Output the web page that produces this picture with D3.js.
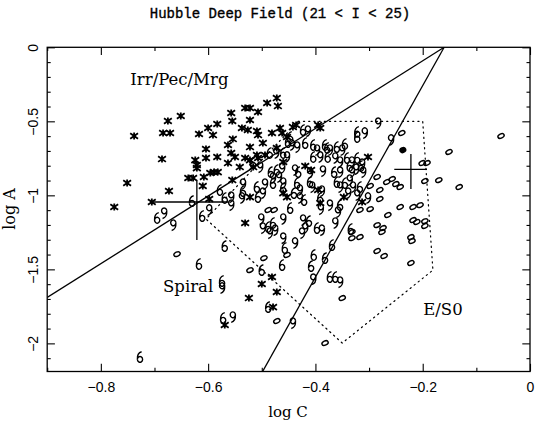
<!DOCTYPE html>
<html><head><meta charset="utf-8">
<script src="https://cdn.jsdelivr.net/npm/d3@7"></script>
<style>body{margin:0;background:#fff}</style>
</head><body>
<svg id="chart" width="540" height="422"></svg>
<script>
const title = "Hubble Deep Field (21 < I < 25)";
const xMajor = [-0.8, -0.6, -0.4, -0.2, 0];
const xMajorLabels = ["\u22120.8", "\u22120.6", "\u22120.4", "\u22120.2", "0"];
const xMinor = [-0.9, -0.7, -0.5, -0.3, -0.1];
const yMajor = [0, -0.5, -1, -1.5, -2];
const yMajorLabels = ["0", "\u22120.5", "\u22121", "\u22121.5", "\u22122"];
const yMinor = [-0.1,-0.2,-0.3,-0.4,-0.6,-0.7,-0.8,-0.9,-1.1,-1.2,-1.3,-1.4,-1.6,-1.7,-1.8,-1.9,-2.1];

const irregular = [[-0.738,-0.599],[-0.751,-0.917],[-0.775,-1.079],[-0.705,-1.045],[-0.684,-0.579],[-0.671,-0.579],[-0.675,-0.498],[-0.651,-0.464],[-0.686,-0.755],[-0.673,-0.971],[-0.637,-0.883],[-0.628,-0.883],[-0.624,-0.762],[-0.621,-0.795],[-0.621,-0.816],[-0.617,-0.586],[-0.608,-0.876],[-0.610,-0.937],[-0.604,-0.687],[-0.604,-0.748],[-0.600,-0.545],[-0.591,-0.593],[-0.583,-0.518],[-0.596,-0.849],[-0.589,-0.843],[-0.582,-0.843],[-0.583,-0.741],[-0.557,-0.444],[-0.555,-0.498],[-0.554,-0.620],[-0.563,-0.660],[-0.557,-0.714],[-0.550,-0.741],[-0.563,-0.782],[-0.555,-0.897],[-0.531,-0.410],[-0.522,-0.410],[-0.507,-0.437],[-0.490,-0.376],[-0.472,-0.343],[-0.470,-0.397],[-0.522,-0.491],[-0.537,-0.545],[-0.526,-0.559],[-0.509,-0.566],[-0.507,-0.593],[-0.481,-0.579],[-0.466,-0.545],[-0.462,-0.579],[-0.442,-0.539],[-0.436,-0.525],[-0.395,-0.525],[-0.391,-0.545],[-0.522,-0.674],[-0.498,-0.647],[-0.472,-0.680],[-0.453,-0.606],[-0.531,-0.748],[-0.509,-0.728],[-0.507,-0.748],[-0.494,-0.728],[-0.541,-0.809],[-0.516,-0.809],[-0.522,-0.762],[-0.460,-0.775],[-0.419,-0.802],[-0.408,-0.829],[-0.302,-0.741],[-0.395,-0.964],[-0.391,-1.052],[-0.598,-1.025],[-0.531,-1.187],[-0.481,-1.552],[-0.500,-1.599],[-0.472,-1.653],[-0.524,-1.694],[-0.569,-1.876],[-0.479,-1.755],[-0.522,-1.012],[-0.460,-0.985],[-0.453,-1.012],[-0.347,-1.012],[-0.313,-1.045]];

const spirals = [[-0.283,-0.512,9],[-0.322,-0.572,6],[-0.322,-0.606,6],[-0.308,-0.579,9],[-0.259,-0.626,9],[-0.447,-0.606,6],[-0.451,-0.640,6],[-0.444,-0.660,9],[-0.460,-0.714,6],[-0.453,-0.741,9],[-0.423,-0.559,6],[-0.414,-0.566,9],[-0.419,-0.647,6],[-0.434,-0.674,9],[-0.404,-0.660,6],[-0.397,-0.694,9],[-0.382,-0.660,6],[-0.378,-0.680,6],[-0.373,-0.694,9],[-0.360,-0.674,6],[-0.350,-0.694,9],[-0.345,-0.653,6],[-0.404,-0.741,6],[-0.391,-0.741,9],[-0.377,-0.741,6],[-0.363,-0.748,9],[-0.354,-0.775,9],[-0.341,-0.748,6],[-0.332,-0.775,9],[-0.322,-0.748,6],[-0.313,-0.789,9],[-0.438,-0.829,9],[-0.432,-0.843,6],[-0.410,-0.849,9],[-0.386,-0.836,9],[-0.365,-0.843,6],[-0.354,-0.843,9],[-0.336,-0.802,6],[-0.332,-0.843,9],[-0.324,-0.823,9],[-0.315,-0.802,6],[-0.311,-0.843,9],[-0.434,-0.917,6],[-0.429,-0.964,9],[-0.410,-0.910,6],[-0.406,-0.944,9],[-0.388,-0.971,9],[-0.360,-0.910,6],[-0.354,-0.944,9],[-0.345,-0.917,6],[-0.336,-0.897,9],[-0.330,-0.944,9],[-0.317,-0.944,6],[-0.339,-0.985,9],[-0.322,-0.998,9],[-0.440,-0.985,6],[-0.429,-1.018,9],[-0.302,-1.018,9],[-0.535,-0.924,9],[-0.535,-0.971,6],[-0.537,-1.018,9],[-0.509,-0.944,6],[-0.494,-0.924,9],[-0.498,-0.985,9],[-0.507,-1.012,6],[-0.483,-0.843,6],[-0.479,-0.883,9],[-0.472,-0.829,6],[-0.468,-0.876,9],[-0.462,-0.816,9],[-0.479,-0.917,6],[-0.460,-0.917,9],[-0.460,-0.951,6],[-0.578,-0.964,6],[-0.569,-1.018,6],[-0.557,-1.012,9],[-0.485,-0.714,6],[-0.473,-0.714,9],[-0.516,-0.782,6],[-0.503,-0.809,9],[-0.695,-1.153,6],[-0.682,-1.120,9],[-0.665,-1.201,9],[-0.630,-1.039,6],[-0.598,-1.099,9],[-0.611,-1.140,6],[-0.557,-1.066,9],[-0.569,-1.343,6],[-0.617,-1.464,6],[-0.574,-1.579,6],[-0.574,-1.626,9],[-0.572,-1.829,6],[-0.554,-1.822,9],[-0.727,-2.093,6],[-0.500,-1.505,6],[-0.488,-1.755,6],[-0.501,-1.160,9],[-0.498,-1.221,9],[-0.488,-1.214,6],[-0.479,-1.187,6],[-0.475,-1.235,9],[-0.485,-1.255,9],[-0.460,-1.160,9],[-0.460,-1.289,9],[-0.457,-1.356,6],[-0.462,-1.471,6],[-0.447,-1.086,6],[-0.421,-1.032,6],[-0.391,-1.018,6],[-0.390,-1.093,9],[-0.373,-1.066,9],[-0.354,-1.066,6],[-0.358,-1.113,9],[-0.423,-1.167,9],[-0.412,-1.174,6],[-0.419,-1.221,9],[-0.397,-1.221,6],[-0.388,-1.235,9],[-0.425,-1.255,9],[-0.438,-1.322,9],[-0.363,-1.187,9],[-0.369,-1.336,6],[-0.403,-1.403,6],[-0.408,-1.478,6],[-0.404,-1.566,9],[-0.373,-1.552,6],[-0.363,-1.552,6],[-0.354,-1.586,9],[-0.334,-1.228,6],[-0.382,-1.424,6],[-0.442,-1.863,9]];

const ellipticals = [[-0.054,-0.599],[-0.151,-0.707],[-0.201,-0.782],[-0.192,-0.782],[-0.170,-0.897],[-0.196,-0.903],[-0.132,-0.944],[-0.239,-0.579],[-0.285,-0.876],[-0.267,-0.910],[-0.257,-0.890],[-0.250,-0.924],[-0.242,-0.944],[-0.280,-0.964],[-0.242,-1.079],[-0.218,-1.079],[-0.205,-1.066],[-0.218,-1.167],[-0.211,-1.180],[-0.196,-1.174],[-0.196,-1.207],[-0.222,-1.282],[-0.220,-1.309],[-0.265,-1.133],[-0.285,-1.201],[-0.274,-1.221],[-0.276,-1.248],[-0.332,-1.248],[-0.332,-1.289],[-0.317,-1.282],[-0.285,-1.376],[-0.272,-1.410],[-0.222,-1.457],[-0.350,-1.694],[-0.382,-1.998],[-0.472,-1.849],[-0.496,-1.424],[-0.522,-1.505],[-0.658,-1.397],[-0.488,-1.099],[-0.477,-1.099],[-0.453,-1.403],[-0.280,-1.025],[-0.317,-1.099],[-0.298,-1.093],[-0.298,-0.937]];

const filledPoints = [[-0.237,-0.694]];

const boundaryLines = [
  [[-0.9,-1.69],[-0.16,0]],
  [[-0.16,0],[-0.5,-2.2]]
];
const spiralRegion = [[-0.432,-0.5],[-0.2,-0.5],[-0.181,-1.505],[-0.350,-1.998],[-0.604,-1.160]];

// [x, y, xLow, xHigh, yLow, yHigh]
const errorBars = [
  [-0.621,-1.045,-0.705,-0.563,-1.302,-0.897],
  [-0.222,-0.824,-0.253,-0.192,-0.958,-0.721]
];

const regionLabels = [
  {text:"Irr/Pec/Mrg", x:-0.745, y:-0.255},
  {text:"Spiral", x:-0.684, y:-1.65},
  {text:"E/S0", x:-0.199, y:-1.81}
];

const svg = d3.select("#chart");
const x = d3.scaleLinear().domain([-0.9, 0]).range([47.2, 530]);
const y = d3.scaleLinear().domain([-2.19, 0]).range([371.5, 47.3]);

svg.append("defs").append("clipPath").attr("id","clip")
  .append("rect").attr("x",47.2).attr("y",47.3).attr("width",530-47.2).attr("height",371.5-47.3);

// title
svg.append("text").attr("x",280).attr("y",18).attr("text-anchor","middle")
  .attr("font-family","'Liberation Mono', monospace").attr("font-size",14)
  .attr("stroke","#000").attr("stroke-width",0.35)
  .text(title);

// axes
function styleAxis(g){ g.select(".domain").remove(); g.selectAll("line").attr("stroke","#000").attr("stroke-width",1.1); }
const bottom = svg.append("g").attr("transform",`translate(0,${y.range()[0]})`)
  .call(d3.axisBottom(x).tickValues(xMajor).tickSize(-7.7).tickPadding(11)
        .tickFormat((d,i)=>xMajorLabels[i]));
styleAxis(bottom);
bottom.selectAll("text").attr("font-family","'Liberation Sans', Arial, sans-serif").attr("font-size",14).attr("fill","#000");
svg.append("g").attr("transform",`translate(0,${y.range()[0]})`)
  .call(d3.axisBottom(x).tickValues(xMinor).tickSize(-3.8).tickFormat("")).call(styleAxis);
svg.append("g").attr("transform",`translate(0,${y.range()[1]})`)
  .call(d3.axisTop(x).tickValues(xMajor).tickSize(-7.7).tickFormat("")).call(styleAxis);
svg.append("g").attr("transform",`translate(0,${y.range()[1]})`)
  .call(d3.axisTop(x).tickValues(xMinor).tickSize(-3.8).tickFormat("")).call(styleAxis);

const left = svg.append("g").attr("transform",`translate(${x.range()[0]},0)`)
  .call(d3.axisLeft(y).tickValues(yMajor).tickSize(-7.7).tickFormat((d,i)=>yMajorLabels[i]));
styleAxis(left);
left.selectAll("text").attr("x",0).attr("y",-9.5).attr("dy",0)
  .attr("transform","rotate(-90)").attr("text-anchor","middle")
  .attr("font-family","'Liberation Sans', Arial, sans-serif").attr("font-size",14).attr("fill","#000");
svg.append("g").attr("transform",`translate(${x.range()[0]},0)`)
  .call(d3.axisLeft(y).tickValues(yMinor).tickSize(-3.5).tickFormat("")).call(styleAxis);
svg.append("g").attr("transform",`translate(${x.range()[1]},0)`)
  .call(d3.axisRight(y).tickValues(yMajor).tickSize(-7.7).tickFormat("")).call(styleAxis);
svg.append("g").attr("transform",`translate(${x.range()[1]},0)`)
  .call(d3.axisRight(y).tickValues(yMinor).tickSize(-3.5).tickFormat("")).call(styleAxis);

// frame
svg.append("rect").attr("x",x.range()[0]).attr("y",y.range()[1])
  .attr("width",x.range()[1]-x.range()[0]).attr("height",y.range()[0]-y.range()[1])
  .attr("fill","none").attr("stroke","#000").attr("stroke-width",1.3);

// axis titles
svg.append("text").attr("x",288).attr("y",417).attr("text-anchor","middle")
  .attr("font-family","'DejaVu Serif', serif").attr("font-size",15).text("log C");
svg.append("text").attr("transform","translate(15,209) rotate(-90)").attr("text-anchor","middle")
  .attr("font-family","'DejaVu Serif', serif").attr("font-size",16).text("log A");

const plot = svg.append("g").attr("clip-path","url(#clip)");
const line = d3.line().x(d=>x(d[0])).y(d=>y(d[1]));

plot.selectAll("path.bound").data(boundaryLines).enter().append("path")
  .attr("class","bound").attr("d",line).attr("fill","none").attr("stroke","#000").attr("stroke-width",1.3);

plot.append("path").attr("d", line(spiralRegion.concat([spiralRegion[0]])))
  .attr("fill","none").attr("stroke","#000").attr("stroke-width",1.2)
  .attr("stroke-dasharray","1.2,4").attr("stroke-linecap","round");

// error bars
errorBars.forEach(e=>{
  plot.append("line").attr("x1",x(e[2])).attr("x2",x(e[3])).attr("y1",y(e[1])).attr("y2",y(e[1]))
    .attr("stroke","#000").attr("stroke-width",1.3);
  plot.append("line").attr("x1",x(e[0])).attr("x2",x(e[0])).attr("y1",y(e[4])).attr("y2",y(e[5]))
    .attr("stroke","#000").attr("stroke-width",1.3);
});

// markers
const starPath = "M0,-3.5V3.5M-3.9,-2.8L3.9,2.8M-3.9,2.8L3.9,-2.8";
plot.selectAll("path.irr").data(irregular).enter().append("path").attr("class","irr")
  .attr("transform",d=>`translate(${x(d[0])},${y(d[1])})`).attr("d",starPath)
  .attr("stroke","#000").attr("stroke-width",1.8).attr("fill","none");

const ninePath = "M2.6,-2.3A2.6,2.9 0 1 0 2.6,-2.2C2.8,1.2 2,4.6 -1.6,5.4";
plot.selectAll("path.sp").data(spirals).enter().append("path").attr("class","sp")
  .attr("transform",d=>`translate(${x(d[0])},${y(d[1])})` + (d[2]===6 ? " rotate(180)" : ""))
  .attr("d",ninePath).attr("stroke","#000").attr("stroke-width",1.4).attr("fill","none");

plot.selectAll("ellipse.el").data(ellipticals).enter().append("ellipse").attr("class","el")
  .attr("transform",d=>`translate(${x(d[0])},${y(d[1])}) rotate(-25)`)
  .attr("rx",3.3).attr("ry",2.1).attr("fill","none").attr("stroke","#000").attr("stroke-width",1.4);

plot.selectAll("ellipse.fl").data(filledPoints).enter().append("ellipse").attr("class","fl")
  .attr("transform",d=>`translate(${x(d[0])},${y(d[1])}) rotate(-25)`)
  .attr("rx",3.6).attr("ry",3.1).attr("fill","#000");

// region labels
svg.selectAll("text.lab").data(regionLabels).enter().append("text").attr("class","lab")
  .attr("x",d=>x(d.x)).attr("y",d=>y(d.y))
  .attr("font-family","'DejaVu Serif', serif").attr("font-size",16.5).text(d=>d.text);
</script>
</body></html>
